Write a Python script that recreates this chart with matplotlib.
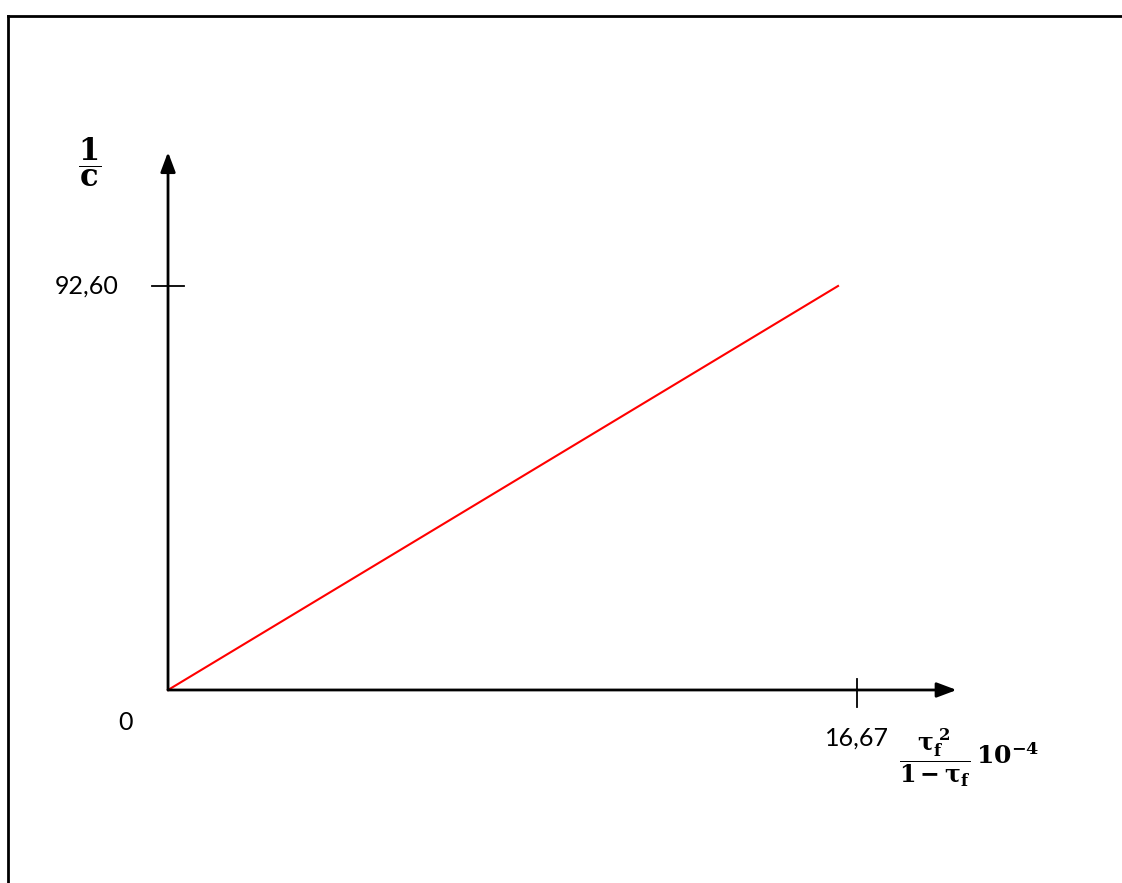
import matplotlib.pyplot as plt
from matplotlib.lines import Line2D

# values
line_x = [0, 16.21]
line_y = [0, 92.60]
x_tick = 16.67
y_tick = 92.60
x_tick_label = '16,67'
y_tick_label = '92,60'
origin_label = '0'

plt.rcParams['mathtext.fontset'] = 'dejavuserif'


def main():
    fig = plt.figure(figsize=(11.22, 8.83), dpi=100)
    ax = fig.add_axes([0, 0, 1, 1])
    ax.set_xlim(-4.065, 23.08)
    ax.set_ylim(-44.24, 158.15)
    ax.axis('off')

    # page frame
    fig.add_artist(Line2D([8 / 1122, 1], [1 - 16 / 883, 1 - 16 / 883], color='black', lw=2))
    fig.add_artist(Line2D([8 / 1122, 8 / 1122], [0, 1 - 16 / 883], color='black', lw=2))

    # axes with arrows
    ax.annotate('', xy=(19.08, 0), xytext=(0, 0),
                arrowprops=dict(arrowstyle='-|>,head_length=1.2,head_width=0.45', color='black', lw=2,
                                shrinkA=0, shrinkB=0))
    ax.annotate('', xy=(0, 123.3), xytext=(0, 0),
                arrowprops=dict(arrowstyle='-|>,head_length=1.2,head_width=0.45', color='black', lw=2,
                                shrinkA=0, shrinkB=0))

    # ticks
    ax.plot([-0.39, 0.39], [y_tick, y_tick], color='black', lw=1.3)
    ax.plot([x_tick, x_tick], [-3.9, 2.5], color='black', lw=1.3)

    ax.plot(line_x, line_y, color='red', lw=1.5)

    ax.text(-1.2, y_tick, y_tick_label, fontsize=18, family='Lato', ha='right', va='center')
    ax.text(-1.03, -7.4, origin_label, fontsize=18, family='Lato', ha='center', va='center')
    ax.text(x_tick, -11.0, x_tick_label, fontsize=18, family='Lato', ha='center', va='center')

    ax.text(-1.89, 121.0, r'$\mathbf{\dfrac{1}{c}}$', fontsize=22, ha='center', va='center')
    ax.text(18.55, -15.6, r'$\mathbf{\dfrac{\tau_f^{\ 2}}{1-\tau_f}}$', fontsize=17, ha='center', va='center')
    ax.text(20.3, -15.2, r'$\mathbf{10^{-4}}$', fontsize=18, ha='center', va='center')

    fig.savefig('out.png', dpi=100)


if __name__ == '__main__':
    main()
